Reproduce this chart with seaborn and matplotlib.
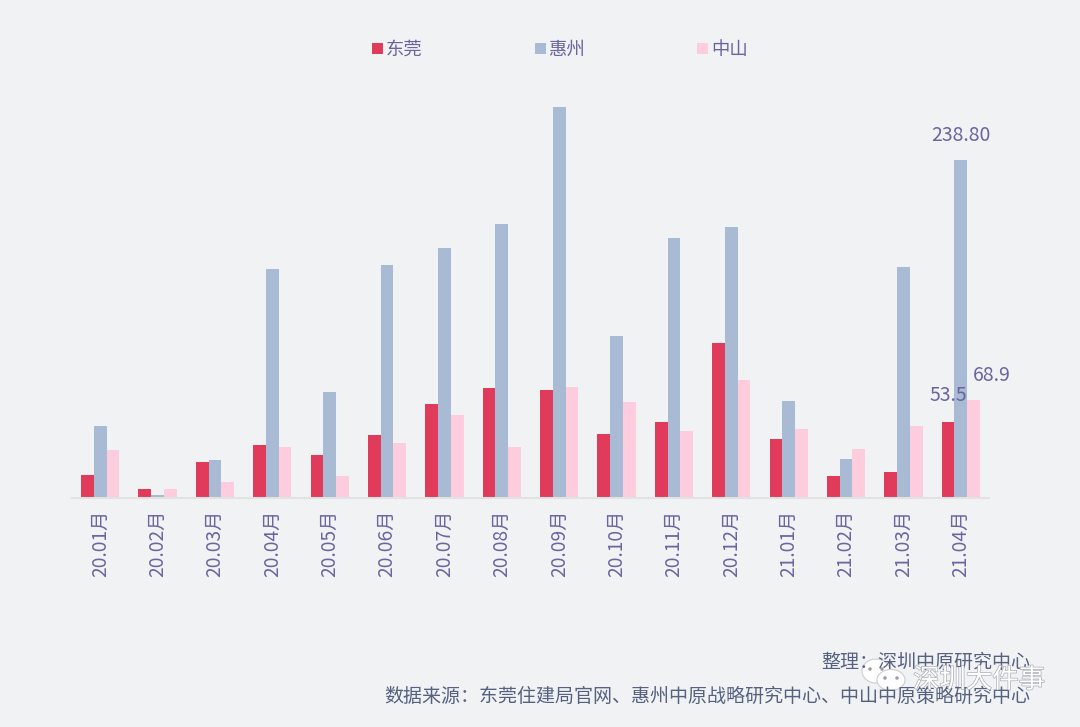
import pandas as pd
import matplotlib.pyplot as plt
import matplotlib.patheffects as pe
import seaborn as sns
from matplotlib.patches import Ellipse

months = ["20.01月", "20.02月", "20.03月", "20.04月", "20.05月", "20.06月", "20.07月", "20.08月",
          "20.09月", "20.10月", "20.11月", "20.12月", "21.01月", "21.02月", "21.03月", "21.04月"]
dongguan = [15.6, 5.7, 24.8, 36.9, 29.8, 43.9, 65.9, 77.2, 75.8, 44.6, 53.5, 109.1, 41.1, 14.9, 18.4, 53.5]
huizhou = [50.3, 2.1, 26.2, 161.6, 75.0, 164.4, 176.4, 193.4, 276.4, 114.1, 183.5, 191.3, 68.6, 27.6, 163.0, 238.8]
zhongshan = [33.3, 5.7, 11.3, 35.4, 14.9, 38.3, 58.1, 35.4, 77.9, 67.3, 46.8, 82.9, 48.2, 34.6, 50.3, 68.9]
city_names = ["东莞", "惠州", "中山"]
city_colors = ["#E03B5A", "#A8BAD4", "#FDCCDD"]

BG = "#F0F2F4"
TEXT = "#6A659F"
NOTE = "#56607F"

df = pd.DataFrame({"month": months, "东莞": dongguan, "惠州": huizhou, "中山": zhongshan})
df = df.melt(id_vars="month", var_name="city", value_name="value")

sns.set_theme(style="white")
plt.rcParams['font.family'] = ['Noto Sans CJK SC', 'DejaVu Sans']

fig = plt.figure(figsize=(10.8, 7.27), dpi=100, facecolor=BG)
ax = fig.add_axes([71.5 / 1080, 1 - 497.5 / 727, 918 / 1080, 417.5 / 727], facecolor=BG)

sns.barplot(data=df, x="month", y="value", hue="city", hue_order=city_names,
            palette=city_colors, width=0.665, saturation=1, linewidth=0, ax=ax)

ax.set_xlim(-0.5, 15.5)
ax.set_ylim(0, 295.5)
ax.set_xlabel("")
ax.set_ylabel("")
ax.set_yticks([])
ax.tick_params(axis="x", length=0, pad=9, labelsize=13.8, labelcolor=TEXT, labelrotation=90)
sns.despine(ax=ax, left=True)
ax.spines["bottom"].set_color("#E2E2E2")
ax.spines["bottom"].set_linewidth(1.5)

# only the last month carries value labels
ax.annotate("53.5", (15 - 0.222, dongguan[-1]), xytext=(0, 16), textcoords="offset pixels",
            ha="center", va="bottom", fontsize=14, color=TEXT)
ax.annotate("238.80", (15, huizhou[-1]), xytext=(0, 14), textcoords="offset pixels",
            ha="center", va="bottom", fontsize=14, color=TEXT)
ax.annotate("68.9", (15 + 0.222, zhongshan[-1]), xytext=(18, 14), textcoords="offset pixels",
            ha="center", va="bottom", fontsize=14, color=TEXT)

# legend entries are spaced far apart in the original
handles, labels = ax.get_legend_handles_labels()
ax.legend(handles, labels, ncols=3, frameon=False, loc="center", bbox_to_anchor=(560 / 1080, 1 - 50 / 727),
          bbox_transform=fig.transFigure, fontsize=13.2, labelcolor=TEXT, handlelength=0.6, handleheight=0.6,
          handletextpad=0.15, columnspacing=6.1)

fig.text(1030 / 1080, 1 - 662 / 727, "整理：深圳中原研究中心", ha="right", va="center", fontsize=13.7, color=NOTE)
fig.text(1030 / 1080, 1 - 696 / 727, "数据来源：东莞住建局官网、惠州中原战略研究中心、中山中原策略研究中心",
         ha="right", va="center", fontsize=13.7, color=NOTE)

# wechat style watermark
for cx, cy, w, h, eyes in [(876, 671, 28, 24, (870, 882)), (891, 680, 28, 21, (885, 897))]:
    fig.add_artist(Ellipse((cx / 1080, 1 - cy / 727), w / 1080, h / 727, transform=fig.transFigure,
                           facecolor="white", edgecolor="#C8CCD2", linewidth=0.8, alpha=0.95))
    for ex in eyes:
        fig.add_artist(Ellipse((ex / 1080, 1 - (cy - 2) / 727), 3.5 / 1080, 3.5 / 727, transform=fig.transFigure,
                               facecolor="#9A9EA6", edgecolor="none"))
fig.text(1045 / 1080, 1 - 680 / 727, "深圳大件事", ha="right", va="center", fontsize=19, color="white",
         path_effects=[pe.withStroke(linewidth=1.0, foreground="#A9AEB6")])

fig.savefig("out.png", dpi=100, facecolor=BG)
